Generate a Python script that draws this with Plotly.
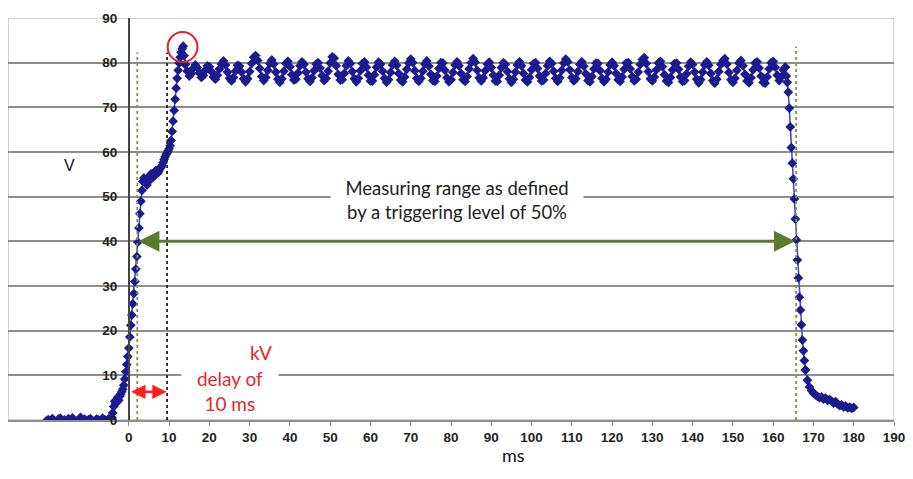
import plotly.graph_objects as go

# ---------------- data ----------------
# time base of each recorded segment (ms): start and sampling step
baseline_start_ms, baseline_step_ms = -20.5, 0.5
baseline_v = [-0.2, 0.1, -0.4, 0.3, -0.1, -0.5, 0.2, 0.4, -0.3, 0.0, -0.6, 0.3,
              -0.2, 0.5, -0.4, -1.2, -0.3, 0.6, -0.1, 0.2, -0.5, 0.1, 0.3, -0.2,
              -0.4, 0.2, 0.0, -0.3, 0.4, 0.1, -0.2, 0.3, 0.2]

rise_start_ms, rise_step_ms = -4.5, 0.25
rise_v = [0.2, 0.6, 1.6, 3.0, 4.2, 3.7, 4.5, 5.1, 4.4, 5.3, 5.8, 6.3, 6.9, 7.8,
          9.2, 10.8, 12.4, 14.2, 16.1, 18.6, 21.2, 23.5, 26.0, 28.3, 31.0, 33.8,
          36.6, 39.8, 43.0, 46.2, 49.0, 51.4, 53.4, 54.2, 53.7, 53.1, 52.6, 53.2,
          54.1, 54.7, 55.1, 54.6, 54.3, 55.0, 55.6, 55.9, 55.5, 55.3, 55.8, 56.3,
          56.6, 57.0, 57.6, 58.3, 58.9, 59.4, 59.8, 60.2, 60.7, 61.4, 62.6, 64.6,
          66.9, 69.3, 71.8, 74.3, 76.5, 78.3, 79.9, 81.2, 82.3, 83.1, 83.7, 81.6,
          79.6]

plateau_start_ms, plateau_step_ms = 14.0, 0.5
plateau_v = [
    79.6, 78.1, 77.0, 77.5, 78.7, 79.5, 78.9, 77.7, 76.7, 77.1, 78.3, 79.3, 79.1, 78.0,
    76.8, 76.3, 77.2, 78.6, 79.7, 80.4, 79.5, 77.9, 76.5, 75.9, 76.7, 78.1, 79.4, 79.2,
    77.9, 76.4, 75.7, 76.4, 78.0, 79.8, 81.2, 81.6, 80.5, 78.7, 76.9, 76.0, 76.7, 78.3,
    79.8, 80.6, 79.7, 77.9, 76.3, 75.6, 76.4, 78.1, 79.8, 80.3, 79.1, 77.3, 76.1, 76.3,
    77.7, 79.3, 80.2, 79.6, 77.9, 76.4, 75.8, 76.6, 78.2, 79.7, 80.0, 78.8, 77.1, 76.0,
    76.5, 78.1, 79.9, 81.3, 81.0, 79.3, 77.4, 76.1, 76.2, 77.6, 79.3, 80.4, 79.8, 78.0,
    76.4, 75.7, 76.5, 78.2, 79.8, 80.2, 79.0, 77.2, 75.9, 75.9, 77.3, 79.0, 80.1, 79.7,
    78.1, 76.5, 75.6, 76.2, 77.8, 79.5, 80.3, 79.4, 77.6, 76.1, 75.7, 76.8, 78.5, 79.9,
    80.8, 80.0, 78.2, 76.5, 75.8, 76.5, 78.1, 79.7, 80.4, 79.2, 77.4, 76.0, 75.8, 77.0,
    78.7, 80.0, 79.9, 78.3, 76.6, 75.7, 76.2, 77.8, 79.5, 80.2, 79.3, 77.6, 76.2, 75.8,
    76.9, 78.6, 80.0, 80.9, 80.1, 78.3, 76.6, 75.9, 76.6, 78.2, 79.7, 80.1, 78.9, 77.2,
    75.9, 75.8, 77.2, 78.9, 80.0, 79.6, 78.0, 76.4, 75.6, 76.3, 77.9, 79.5, 80.2, 79.3,
    77.6, 76.1, 75.7, 76.7, 78.4, 79.8, 80.0, 78.7, 77.0, 75.9, 76.1, 77.6, 79.3, 80.3,
    79.8, 78.1, 76.5, 75.8, 76.6, 78.3, 79.9, 80.8, 80.2, 78.4, 76.7, 75.9, 76.4, 78.0,
    79.6, 80.2, 79.2, 77.5, 76.0, 75.7, 76.9, 78.6, 79.9, 79.8, 78.2, 76.5, 75.7, 76.3,
    77.9, 79.5, 80.1, 79.3, 77.6, 76.2, 75.8, 76.8, 78.5, 79.9, 80.0, 78.6, 76.9, 75.9,
    76.3, 77.9, 79.6, 80.7, 81.1, 79.8, 78.0, 76.4, 75.9, 76.8, 78.4, 79.9, 80.3, 79.1,
    77.3, 75.9, 75.6, 76.7, 78.4, 79.8, 79.9, 78.5, 76.8, 75.8, 76.0, 77.5, 79.2, 80.1,
    79.6, 77.9, 76.3, 75.5, 76.2, 77.9, 79.5, 80.2, 79.4, 77.6, 76.0, 75.4, 76.3, 78.0,
    79.6, 80.4, 80.9, 79.7, 77.8, 76.2, 75.6, 76.5, 78.3, 79.9, 80.5, 79.3, 77.4, 75.9,
    75.5, 76.6, 78.4, 79.9, 80.2, 78.8, 77.0, 75.6, 75.4, 76.8, 78.6, 80.0, 80.3, 79.0,
    77.2, 76.0, 76.8, 78.4, 79.0]

fall_start_ms, fall_step_ms = 163.0, 0.25
fall_v = [79.0, 77.0, 75.6, 73.4, 69.8, 65.6, 61.0, 57.5, 54.0, 49.5, 45.0, 40.3,
          35.8, 31.8, 27.5, 24.6, 21.3, 17.9, 15.5, 13.3, 11.2]

tail_start_ms, tail_step_ms = 168.0, 0.5
tail_v = [11.2, 8.9, 7.4, 6.6, 6.0, 5.6, 5.3, 5.0, 5.2, 4.7, 4.9, 4.4, 4.6, 4.2,
          3.8, 4.1, 3.6, 3.2, 3.4, 2.9, 3.1, 2.7, 2.9, 2.6, 2.8]

x_tick_vals = [0, 10, 20, 30, 40, 50, 60, 70, 80, 90, 100, 110, 120, 130, 140,
               150, 160, 170, 180, 190]
y_tick_vals = [0, 10, 20, 30, 40, 50, 60, 70, 80, 90]

# markers of the chart
trigger_start_ms, trigger_end_ms, trigger_level_v = 2.0, 165.4, 40
delay_start_ms, delay_end_ms, delay_level_v = 0.2, 9.4, 6.3
start_line_ms, delay_line_ms, end_line_ms = 2.1, 9.5, 165.7
peak_ms, peak_v = 13.35, 83.5

# ---------------- figure ----------------
NAVY = "#1b1b8f"
GREEN = "#5b7a2c"
RED = "#ff1f1f"
RED_TXT = "#e8262a"
GRID = "#8e8e8e"

fig = go.Figure()
segments = [
    (baseline_start_ms, baseline_step_ms, baseline_v),
    (rise_start_ms, rise_step_ms, rise_v),
    (plateau_start_ms, plateau_step_ms, plateau_v),
    (fall_start_ms, fall_step_ms, fall_v),
    (tail_start_ms, tail_step_ms, tail_v),
]
for x0, dx, vals in segments:
    fig.add_trace(go.Scatter(
        x0=x0, dx=dx, y=vals, mode="lines+markers",
        line=dict(color="#4a4ac0", width=1.6),
        marker=dict(symbol="diamond", size=7.5, color=NAVY),
        showlegend=False, hoverinfo="skip"))

shapes = [
    dict(type="rect", xref="x", yref="y", x0=-30, x1=190, y0=0, y1=90,
         line=dict(color="#a8a8a8", width=1), layer="below"),
    dict(type="line", xref="x", yref="y", x0=start_line_ms, x1=start_line_ms,
         y0=0, y1=82.3, line=dict(color="#87914a", width=1.8, dash="dot")),
    dict(type="line", xref="x", yref="y", x0=delay_line_ms, x1=delay_line_ms,
         y0=0, y1=82.3, line=dict(color="#222222", width=1.8, dash="dot")),
    dict(type="line", xref="x", yref="y", x0=end_line_ms, x1=end_line_ms,
         y0=0, y1=83.6, line=dict(color="#87914a", width=1.8, dash="dot")),
    dict(type="circle", xref="x", yref="y", x0=peak_ms - 3.7, x1=peak_ms + 3.7,
         y0=peak_v - 3.35, y1=peak_v + 3.35, line=dict(color="#e82020", width=2)),
]

annotations = [
    dict(x=trigger_end_ms, y=trigger_level_v, ax=trigger_start_ms, ay=trigger_level_v,
         xref="x", yref="y", axref="x", ayref="y", text="", showarrow=True,
         arrowhead=2, startarrowhead=2, arrowside="end+start", arrowsize=1.4,
         arrowwidth=3, arrowcolor=GREEN),
    dict(x=delay_end_ms, y=delay_level_v, ax=delay_start_ms, ay=delay_level_v,
         xref="x", yref="y", axref="x", ayref="y", text="", showarrow=True,
         arrowhead=2, startarrowhead=2, arrowside="end+start", arrowsize=1.15,
         arrowwidth=2.5, arrowcolor=RED),
    dict(x=81.5, y=49.3, xref="x", yref="y", showarrow=False,
         text="Measuring range as defined<br>by a triggering level of 50%",
         font=dict(family="Lato", size=18.5, color="#222222"),
         bgcolor="white", width=244, borderpad=4),
    dict(x=32.9, y=15.2, xref="x", yref="y", showarrow=False, text="kV",
         font=dict(family="Lato", size=19, color=RED_TXT)),
    dict(x=25.0, y=6.6, xref="x", yref="y", showarrow=False,
         text="delay of<br>10 ms",
         font=dict(family="Lato", size=19, color=RED_TXT),
         bgcolor="white", width=92, borderpad=2),
    dict(x=-14.7, y=57, xref="x", yref="y", showarrow=False, text="V",
         font=dict(family="Liberation Sans", size=16, color="#111111")),
    dict(x=0.571, y=-0.12, xref="paper", yref="paper", showarrow=False, text="ms",
         font=dict(family="Lato", size=18, color="#111111")),
]

tick_font = dict(family="Liberation Sans", size=13.5, color="#222222", weight="bold")

fig.update_layout(
    width=913, height=479,
    margin=dict(l=8, r=15, t=18, b=59),
    paper_bgcolor="white", plot_bgcolor="white",
    shapes=shapes, annotations=annotations,
    xaxis=dict(range=[-30, 190], tickvals=x_tick_vals, showgrid=False,
               zeroline=False, showline=True, linecolor=GRID, linewidth=2,
               ticks="outside", ticklen=4, tickcolor="#8a8a8a",
               ticklabeloverflow="allow", tickfont=tick_font),
    yaxis=dict(range=[0, 90], tickvals=y_tick_vals, showgrid=True,
               gridcolor=GRID, gridwidth=2, zeroline=False,
               showline=True, linecolor="#444444", linewidth=1.5,
               anchor="free", position=30 / 220, ticks="",
               ticklabelstandoff=8, tickfont=tick_font),
)

# place the figure at the page origin (no default body margin)
fig.write_html(
    "out.html",
    config={"displayModeBar": False},
    post_script="document.body.style.margin='0';document.body.style.overflow='hidden';",
)
